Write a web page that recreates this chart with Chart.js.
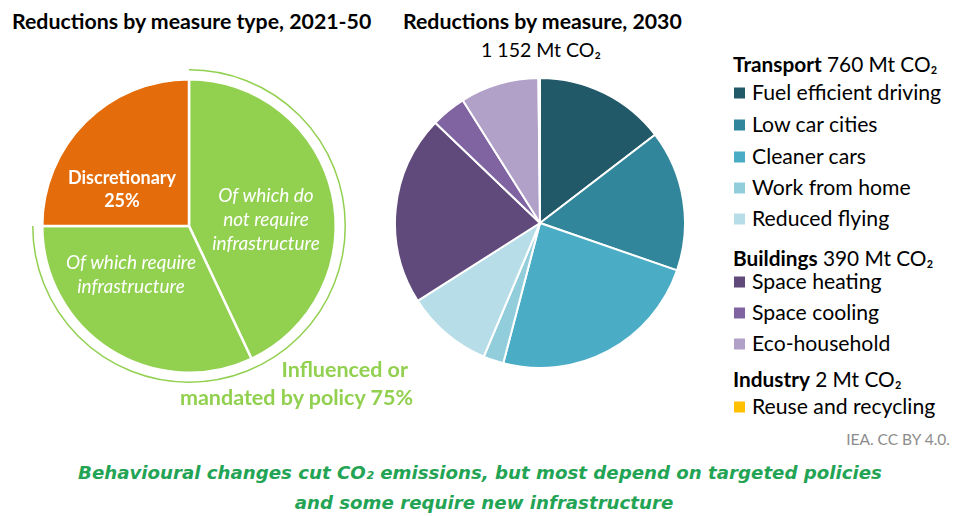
<!DOCTYPE html>
<html><head><meta charset="utf-8">
<script src="https://cdn.jsdelivr.net/npm/chart.js@4.4.1/dist/chart.umd.min.js"></script>
<style>
body{margin:0;width:953px;height:516px;background:#fff;position:relative;overflow:hidden;font-family:Lato,"Noto Sans",sans-serif;color:#000;}
.t{position:absolute;white-space:nowrap;line-height:1;}
.c{transform:translate(-50%,-50%);text-align:center;}
.l{transform:translateY(-50%);}
.r{transform:translate(-100%,-50%);text-align:right;}
.sq{position:absolute;width:11px;height:11px;transform:translateY(-50%);}
</style></head><body>
<div style="position:absolute;left:19px;top:56px;width:340px;height:340px"><canvas id="c1"></canvas></div>
<div style="position:absolute;left:394px;top:77px;width:292px;height:292px"><canvas id="c2"></canvas></div>
<div id="texts"></div>
<script>
// ---- data ----
const typeLabels = ['Of which do not require infrastructure', 'Of which require infrastructure', 'Discretionary'];
const typeShares = [43, 32, 25];
const policyShare = 75;
const measureLabels = ['Fuel efficient driving', 'Low car cities', 'Cleaner cars', 'Work from home', 'Reduced flying', 'Space heating', 'Space cooling', 'Eco-household', 'Reuse and recycling'];
const measureValues = [168, 181, 274, 26, 111, 244, 45, 101, 2];
const sectorNames = ['Transport', 'Buildings', 'Industry'];
const sectorTotals = [760, 390, 2];
const measureSector = [0, 0, 0, 0, 0, 1, 1, 1, 2];
const totalReduction = 1152;

// ---- styles ----
const typeColors = ['#92D050', '#92D050', '#E46C0A'];
const measureColors = ['#215968', '#31869B', '#4BACC6', '#92CDDC', '#B7DEE8', '#604A7B', '#8064A2', '#B1A0C7', '#FFC000'];
const policyGreen = '#92D050';

const outerArc = {
  id: 'outerArc',
  afterDatasetsDraw(chart) {
    const arc = chart.getDatasetMeta(0).data[0];
    if (!arc) return;
    const ctx = chart.ctx;
    ctx.save();
    ctx.strokeStyle = policyGreen;
    ctx.lineWidth = 1.5;
    ctx.beginPath();
    const frac = policyShare / 100;
    ctx.arc(arc.x, arc.y, arc.outerRadius + 9.5, -Math.PI / 2, -Math.PI / 2 + frac * 2 * Math.PI, false);
    ctx.stroke();
    ctx.restore();
  }
};

const common = {
  responsive: true, maintainAspectRatio: false, animation: false,
  plugins: { legend: { display: false }, tooltip: { enabled: false } }
};

new Chart(document.getElementById('c1'), {
  type: 'pie',
  data: { labels: typeLabels, datasets: [{ data: typeShares, backgroundColor: typeColors, borderColor: '#fff', borderWidth: 2.5 }] },
  options: Object.assign({}, common, { layout: { padding: 22 } }),
  plugins: [outerArc]
});

new Chart(document.getElementById('c2'), {
  type: 'pie',
  data: { labels: measureLabels, datasets: [{ data: measureValues, backgroundColor: measureColors, borderColor: '#fff', borderWidth: 2 }] },
  options: Object.assign({}, common)
});

// ---- texts ----
const T = document.getElementById('texts');
function txt(s, x, y, cls, style) {
  const d = document.createElement('div');
  d.className = 't ' + cls;
  d.style.left = x + 'px'; d.style.top = y + 'px';
  d.style.cssText += style || '';
  d.innerHTML = s;
  T.appendChild(d);
  return d;
}
txt('Reductions by measure type, 2021-50', 12, 22, 'l', 'font-weight:700;font-size:21.3px;');
txt('Reductions by measure, 2030', 403, 22, 'l', 'font-weight:700;font-size:21.3px;');
txt(totalReduction.toLocaleString('fr-FR').replace(/\u202f|\u00a0/g, ' ') + ' Mt CO₂', 541, 50, 'c', 'font-size:19.5px;');

txt(typeLabels[2], 122, 177, 'c', 'font-weight:700;font-size:18px;color:#fff;');
txt(typeShares[2] + '%', 122, 200, 'c', 'font-weight:700;font-size:18px;color:#fff;');
txt('Of which do', 266, 194, 'c', 'font-style:italic;font-size:19px;color:#fff;');
txt('not require', 266, 218, 'c', 'font-style:italic;font-size:19px;color:#fff;');
txt('infrastructure', 266, 242, 'c', 'font-style:italic;font-size:19px;color:#fff;');
txt('Of which require', 131, 261, 'c', 'font-style:italic;font-size:19px;color:#fff;');
txt('infrastructure', 131, 285, 'c', 'font-style:italic;font-size:19px;color:#fff;');
txt('Influenced or', 408, 370, 'r', 'font-weight:700;font-size:21.5px;color:' + policyGreen + ';');
txt('mandated by policy ' + policyShare + '%', 413, 398, 'r', 'font-weight:700;font-size:21.5px;color:' + policyGreen + ';');

// legend
const headerY = [64, 258, 379];
const itemY = [93, 125, 157, 188, 219, 282, 313, 344, 407];
sectorNames.forEach((s, i) => {
  txt('<b>' + s + '</b> ' + sectorTotals[i] + ' Mt CO₂', 733, headerY[i], 'l', 'font-size:20.8px;');
});
measureLabels.forEach((m, i) => {
  const sq = document.createElement('div');
  sq.className = 'sq';
  sq.style.left = '734px'; sq.style.top = itemY[i] + 'px';
  sq.style.background = measureColors[i];
  T.appendChild(sq);
  txt(m, 752, itemY[i], 'l', 'font-size:21.2px;');
});

txt('IEA. CC BY 4.0.', 950, 440, 'r', 'font-size:15.5px;color:#8c8c8c;');
const foot = 'font-family:"DejaVu Sans",sans-serif;font-weight:700;font-style:italic;font-size:18.2px;color:#23A455;';
txt('Behavioural changes cut CO₂ emissions, but most depend on targeted policies', 480, 473, 'c', foot);
txt('and some require new infrastructure', 484, 503, 'c', foot);
</script>
</body></html>
